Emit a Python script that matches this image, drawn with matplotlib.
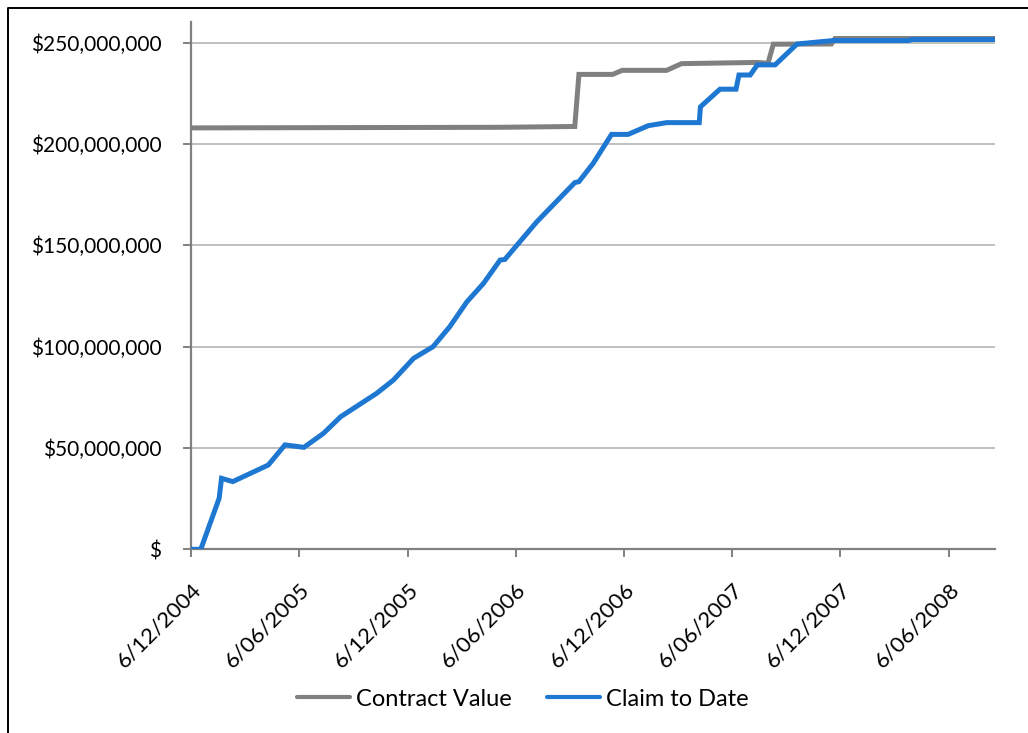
import matplotlib
matplotlib.use("Agg")
import matplotlib.pyplot as plt
import matplotlib.dates as mdates
from matplotlib.lines import Line2D
from matplotlib.ticker import FuncFormatter
import pandas as pd

# ---- data ----
claim_dates = ["2004-12-06", "2004-12-22", "2005-01-22", "2005-01-26", "2005-02-14",
               "2005-04-15", "2005-05-13", "2005-06-14", "2005-07-17", "2005-08-15",
               "2005-10-15", "2005-11-12", "2005-12-16", "2006-01-18", "2006-02-15",
               "2006-03-16", "2006-04-13", "2006-05-11", "2006-05-19", "2006-07-12",
               "2006-09-14", "2006-09-21", "2006-10-15", "2006-11-15", "2006-12-13",
               "2007-01-16", "2007-02-16", "2007-04-12", "2007-04-14", "2007-05-17",
               "2007-06-13", "2007-06-18", "2007-07-07", "2007-07-19", "2007-08-18",
               "2007-09-24", "2007-11-24", "2008-03-30", "2008-04-05", "2008-08-23"]
claim_values = [0.0, 0.0, 25.2, 35.0, 33.4,
                41.6, 51.5, 50.3, 57.2, 65.4,
                77.0, 83.5, 94.2, 100.0, 109.8,
                122.1, 131.2, 142.7, 143.0, 161.6,
                180.9, 181.4, 190.4, 204.7, 204.7,
                209.0, 210.5, 210.5, 218.3, 227.0,
                227.0, 234.0, 234.0, 239.0, 239.0,
                249.3, 251.0, 251.0, 251.5, 251.5]  # $ millions

contract_dates = ["2004-12-06", "2006-05-10", "2006-09-14", "2006-09-21", "2006-11-17",
                  "2006-12-03", "2007-02-16", "2007-03-13", "2007-07-18", "2007-08-06",
                  "2007-08-15", "2007-11-21", "2007-11-27", "2008-08-23"]
contract_values = [207.9, 208.2, 208.6, 234.3, 234.3,
                   236.3, 236.3, 239.6, 240.2, 239.8,
                   249.2, 249.3, 252.0, 252.0]  # $ millions

y_ticks = [0, 50e6, 100e6, 150e6, 200e6, 250e6]
x_tick_dates = ["2004-12-06", "2005-06-06", "2005-12-06", "2006-06-06",
                "2006-12-06", "2007-06-06", "2007-12-06", "2008-06-06"]
x_tick_labels = ["6/12/2004", "6/06/2005", "6/12/2005", "6/06/2006",
                 "6/12/2006", "6/06/2007", "6/12/2007", "6/06/2008"]
series_names = ["Contract Value", "Claim to Date"]

# ---- style ----
GRAY = "#808080"
BLUE = "#1E78D2"
plt.rcParams['font.family'] = ['Lato', 'DejaVu Sans']

W, H = 1028, 733
fig = plt.figure(figsize=(W / 100, H / 100), dpi=100)
ax = fig.add_axes([191.3 / W, 1 - 549.3 / H, (995 - 191.3) / W, (549.3 - 22.3) / H])

cd = pd.to_datetime(contract_dates)
cv = [v * 1e6 for v in contract_values]
kd = pd.to_datetime(claim_dates)
kv = [v * 1e6 for v in claim_values]

l1, = ax.plot(cd, cv, color=GRAY, lw=3.6, solid_joinstyle='miter',
              solid_capstyle='round', zorder=3, label=series_names[0])
l2, = ax.plot(kd, kv, color=BLUE, lw=3.6, solid_joinstyle='miter',
              solid_capstyle='round', zorder=4, label=series_names[1])

ax.set_xlim(pd.Timestamp("2004-12-06"), pd.Timestamp("2008-08-23"))
ax.set_ylim(0, 260e6)

ax.set_yticks(y_ticks)
ax.yaxis.set_major_formatter(FuncFormatter(lambda v, p: "$" if v == 0 else "${:,.0f}".format(v)))
ax.set_xticks(pd.to_datetime(x_tick_dates))
ax.set_xticklabels(x_tick_labels, rotation=45, ha='right', rotation_mode='anchor')

ax.grid(axis='y', color='#C0C0C0', lw=1.4, zorder=0)
ax.set_axisbelow(True)
for s in ['top', 'right']:
    ax.spines[s].set_visible(False)
for s in ['left', 'bottom']:
    ax.spines[s].set_color(GRAY)
    ax.spines[s].set_linewidth(1.6)

ax.tick_params(axis='y', direction='out', length=5.5, width=1.4, color=GRAY,
               labelsize=15, pad=16, labelcolor='black')
ax.tick_params(axis='x', direction='out', length=5.5, width=1.4, color=GRAY,
               labelsize=16, pad=16, labelcolor='black')

handles = [Line2D([0], [0], color=GRAY, lw=3.0, solid_capstyle='round'),
           Line2D([0], [0], color=BLUE, lw=3.0, solid_capstyle='round')]
fig.legend(handles, series_names, loc='center', ncol=2,
           bbox_to_anchor=(523 / W, 1 - 699 / H), frameon=False,
           fontsize=17, handlelength=2.25, handletextpad=0.25, columnspacing=1.5)

# outer frame (partially visible)
fig.add_artist(Line2D([8 / W, 8 / W, 1.0], [0.0, 1 - 7.5 / H, 1 - 7.5 / H],
                      color='black', lw=1.4, transform=fig.transFigure))

fig.savefig("out.png", dpi=100)
